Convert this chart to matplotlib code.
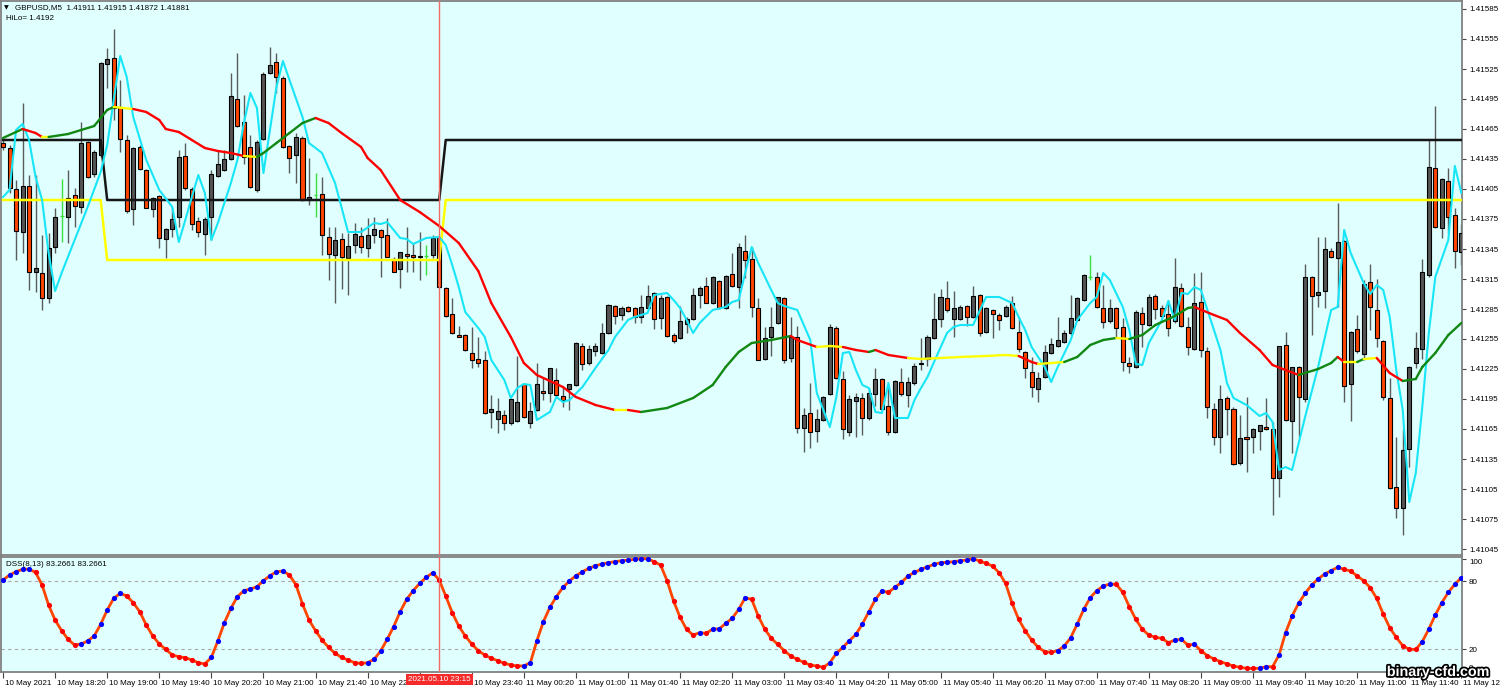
import numpy as np
import pandas as pd
import matplotlib
matplotlib.use('Agg')
import matplotlib.pyplot as plt
import matplotlib.patheffects as pe
from matplotlib.collections import LineCollection
from matplotlib import transforms

plt.rcParams['font.family'] = ['Liberation Sans', 'DejaVu Sans']
FS = 5.8

# GBPUSD M5 candles, 10 May 17:40 .. 11 May 12:20
opens = [
    1.41451, 1.41446, 1.41405, 1.41362, 1.41408, 1.41322, 1.41321, 1.41296, 1.41347, 1.41378,
    1.41377, 1.41399, 1.41387, 1.41452, 1.41420, 1.41439, 1.41530, 1.41536, 1.41487, 1.41454,
    1.41385, 1.41447, 1.41424, 1.41385, 1.41398, 1.41355, 1.41365, 1.41377, 1.41438, 1.41405,
    1.41373, 1.41360, 1.41377, 1.41418, 1.41424, 1.41435, 1.41495, 1.41472, 1.41447, 1.41404,
    1.41455, 1.41521, 1.41532, 1.41516, 1.41448, 1.41439, 1.41456, 1.41394, 1.41399, 1.41400,
    1.41357, 1.41339, 1.41355, 1.41336, 1.41349, 1.41358, 1.41346, 1.41359, 1.41364, 1.41359,
    1.41335, 1.41325, 1.41340, 1.41339, 1.41337, 1.41338, 1.41339, 1.41357, 1.41306, 1.41280,
    1.41259, 1.41259, 1.41241, 1.41235, 1.41234, 1.41182, 1.41175, 1.41179, 1.41171, 1.41173,
    1.41210, 1.41171, 1.41184, 1.41203, 1.41201, 1.41214, 1.41198, 1.41205, 1.41209, 1.41248,
    1.41231, 1.41243, 1.41241, 1.41261, 1.41288, 1.41279, 1.41287, 1.41286, 1.41277, 1.41286,
    1.41301, 1.41276, 1.41297, 1.41259, 1.41256, 1.41270, 1.41275, 1.41299, 1.41308, 1.41291,
    1.41313, 1.41286, 1.41320, 1.41307, 1.41343, 1.41335, 1.41286, 1.41235, 1.41257, 1.41271,
    1.41296, 1.41236, 1.41257, 1.41166, 1.41181, 1.41163, 1.41174, 1.41200, 1.41266, 1.41215,
    1.41162, 1.41193, 1.41196, 1.41176, 1.41200, 1.41215, 1.41188, 1.41162, 1.41212, 1.41199,
    1.41211, 1.41230, 1.41235, 1.41256, 1.41275, 1.41296, 1.41275, 1.41275, 1.41288, 1.41277,
    1.41299, 1.41262, 1.41284, 1.41279, 1.41278, 1.41291, 1.41262, 1.41242, 1.41222, 1.41205,
    1.41217, 1.41241, 1.41248, 1.41252, 1.41261, 1.41274, 1.41294, 1.41317, 1.41317, 1.41286,
    1.41273, 1.41286, 1.41267, 1.41231, 1.41227, 1.41281, 1.41269, 1.41298, 1.41286, 1.41280,
    1.41273, 1.41306, 1.41267, 1.41245, 1.41292, 1.41243, 1.41185, 1.41157, 1.41196, 1.41185,
    1.41131, 1.41157, 1.41157, 1.41163, 1.41167, 1.41165, 1.41116, 1.41249, 1.41173, 1.41227,
    1.41195, 1.41317, 1.41299, 1.41303, 1.41343, 1.41336, 1.41353, 1.41210, 1.41265, 1.41240,
    1.41312, 1.41284, 1.41253, 1.41196, 1.41107, 1.41086, 1.41145, 1.41231, 1.41245, 1.41319,
    1.41426, 1.41366, 1.41413, 1.41379, 1.41342,
]
highs = [
    1.41454, 1.41449, 1.41414, 1.41491, 1.41419, 1.41419, 1.41359, 1.41361, 1.41386, 1.41415,
    1.41424, 1.41406, 1.41472, 1.41453, 1.41444, 1.41532, 1.41546, 1.41565, 1.41514, 1.41459,
    1.41447, 1.41449, 1.41425, 1.41397, 1.41399, 1.41366, 1.41387, 1.41444, 1.41451, 1.41407,
    1.41377, 1.41377, 1.41424, 1.41444, 1.41444, 1.41521, 1.41541, 1.41499, 1.41459, 1.41454,
    1.41522, 1.41547, 1.41541, 1.41518, 1.41449, 1.41461, 1.41458, 1.41436, 1.41421, 1.41417,
    1.41367, 1.41367, 1.41361, 1.41361, 1.41371, 1.41367, 1.41376, 1.41377, 1.41365, 1.41376,
    1.41337, 1.41342, 1.41367, 1.41351, 1.41362, 1.41349, 1.41359, 1.41358, 1.41307, 1.41296,
    1.41268, 1.41260, 1.41267, 1.41257, 1.41243, 1.41199, 1.41196, 1.41184, 1.41196, 1.41238,
    1.41211, 1.41192, 1.41231, 1.41217, 1.41226, 1.41226, 1.41207, 1.41210, 1.41252, 1.41251,
    1.41249, 1.41251, 1.41271, 1.41290, 1.41289, 1.41288, 1.41288, 1.41287, 1.41299, 1.41309,
    1.41302, 1.41299, 1.41298, 1.41261, 1.41288, 1.41277, 1.41306, 1.41308, 1.41317, 1.41318,
    1.41314, 1.41319, 1.41341, 1.41351, 1.41359, 1.41347, 1.41296, 1.41267, 1.41287, 1.41297,
    1.41297, 1.41277, 1.41268, 1.41186, 1.41211, 1.41185, 1.41198, 1.41270, 1.41268, 1.41223,
    1.41199, 1.41201, 1.41201, 1.41206, 1.41226, 1.41216, 1.41210, 1.41214, 1.41226, 1.41217,
    1.41231, 1.41256, 1.41259, 1.41301, 1.41305, 1.41313, 1.41303, 1.41289, 1.41289, 1.41308,
    1.41300, 1.41287, 1.41285, 1.41281, 1.41289, 1.41298, 1.41277, 1.41243, 1.41237, 1.41222,
    1.41249, 1.41256, 1.41277, 1.41264, 1.41299, 1.41297, 1.41320, 1.41339, 1.41322, 1.41309,
    1.41295, 1.41287, 1.41276, 1.41237, 1.41284, 1.41287, 1.41300, 1.41300, 1.41289, 1.41294,
    1.41336, 1.41311, 1.41277, 1.41321, 1.41322, 1.41247, 1.41191, 1.41209, 1.41198, 1.41187,
    1.41179, 1.41197, 1.41166, 1.41169, 1.41196, 1.41172, 1.41248, 1.41262, 1.41227, 1.41228,
    1.41330, 1.41318, 1.41357, 1.41357, 1.41346, 1.41391, 1.41354, 1.41263, 1.41279, 1.41314,
    1.41330, 1.41315, 1.41254, 1.41216, 1.41157, 1.41165, 1.41228, 1.41262, 1.41335, 1.41454,
    1.41488, 1.41416, 1.41426, 1.41386, 1.41370,
]
lows = [
    1.41444, 1.41401, 1.41334, 1.41341, 1.41304, 1.41302, 1.41284, 1.41291, 1.41341, 1.41352,
    1.41351, 1.41367, 1.41381, 1.41416, 1.41417, 1.41437, 1.41506, 1.41474, 1.41442, 1.41381,
    1.41369, 1.41424, 1.41386, 1.41377, 1.41346, 1.41336, 1.41357, 1.41367, 1.41404, 1.41364,
    1.41357, 1.41339, 1.41354, 1.41417, 1.41423, 1.41434, 1.41467, 1.41430, 1.41406, 1.41402,
    1.41454, 1.41520, 1.41501, 1.41446, 1.41421, 1.41411, 1.41393, 1.41389, 1.41377, 1.41339,
    1.41314, 1.41291, 1.41305, 1.41299, 1.41341, 1.41341, 1.41337, 1.41351, 1.41317, 1.41337,
    1.41322, 1.41306, 1.41322, 1.41322, 1.41314, 1.41319, 1.41336, 1.41306, 1.41277, 1.41260,
    1.41257, 1.41243, 1.41226, 1.41227, 1.41180, 1.41166, 1.41161, 1.41164, 1.41169, 1.41172,
    1.41176, 1.41166, 1.41183, 1.41194, 1.41192, 1.41197, 1.41187, 1.41184, 1.41208, 1.41224,
    1.41229, 1.41238, 1.41240, 1.41260, 1.41270, 1.41274, 1.41282, 1.41271, 1.41271, 1.41286,
    1.41265, 1.41265, 1.41257, 1.41251, 1.41255, 1.41261, 1.41274, 1.41286, 1.41291, 1.41290,
    1.41285, 1.41285, 1.41307, 1.41286, 1.41316, 1.41277, 1.41234, 1.41234, 1.41238, 1.41270,
    1.41231, 1.41232, 1.41161, 1.41142, 1.41146, 1.41152, 1.41173, 1.41199, 1.41215, 1.41155,
    1.41158, 1.41157, 1.41159, 1.41174, 1.41188, 1.41184, 1.41159, 1.41161, 1.41198, 1.41187,
    1.41209, 1.41224, 1.41228, 1.41255, 1.41267, 1.41282, 1.41257, 1.41274, 1.41268, 1.41276,
    1.41258, 1.41261, 1.41256, 1.41264, 1.41277, 1.41265, 1.41242, 1.41216, 1.41197, 1.41192,
    1.41216, 1.41240, 1.41247, 1.41251, 1.41259, 1.41273, 1.41293, 1.41314, 1.41286, 1.41266,
    1.41271, 1.41256, 1.41223, 1.41221, 1.41226, 1.41247, 1.41268, 1.41275, 1.41277, 1.41258,
    1.41271, 1.41267, 1.41239, 1.41244, 1.41237, 1.41176, 1.41149, 1.41141, 1.41159, 1.41129,
    1.41129, 1.41122, 1.41141, 1.41144, 1.41164, 1.41079, 1.41097, 1.41173, 1.41141, 1.41157,
    1.41192, 1.41259, 1.41287, 1.41286, 1.41336, 1.41287, 1.41192, 1.41173, 1.41241, 1.41234,
    1.41264, 1.41247, 1.41194, 1.41105, 1.41076, 1.41059, 1.41127, 1.41226, 1.41235, 1.41317,
    1.41366, 1.41356, 1.41361, 1.41326, 1.41329,
]
closes = [
    1.41447, 1.41406, 1.41363, 1.41408, 1.41322, 1.41326, 1.41296, 1.41346, 1.41377, 1.41378,
    1.41396, 1.41388, 1.41451, 1.41417, 1.41442, 1.41531, 1.41535, 1.41486, 1.41455, 1.41383,
    1.41446, 1.41425, 1.41386, 1.41396, 1.41356, 1.41365, 1.41375, 1.41437, 1.41406, 1.41370,
    1.41362, 1.41375, 1.41420, 1.41430, 1.41435, 1.41498, 1.41468, 1.41437, 1.41407, 1.41452,
    1.41520, 1.41529, 1.41517, 1.41447, 1.41436, 1.41457, 1.41394, 1.41397, 1.41399, 1.41359,
    1.41340, 1.41354, 1.41337, 1.41348, 1.41360, 1.41347, 1.41359, 1.41365, 1.41357, 1.41337,
    1.41322, 1.41342, 1.41338, 1.41337, 1.41338, 1.41338, 1.41356, 1.41307, 1.41278, 1.41261,
    1.41257, 1.41244, 1.41234, 1.41231, 1.41181, 1.41185, 1.41183, 1.41171, 1.41195, 1.41192,
    1.41177, 1.41183, 1.41210, 1.41201, 1.41226, 1.41199, 1.41194, 1.41210, 1.41251, 1.41230,
    1.41245, 1.41248, 1.41261, 1.41289, 1.41278, 1.41286, 1.41283, 1.41277, 1.41287, 1.41298,
    1.41275, 1.41296, 1.41258, 1.41253, 1.41273, 1.41275, 1.41299, 1.41306, 1.41291, 1.41317,
    1.41286, 1.41318, 1.41308, 1.41347, 1.41334, 1.41287, 1.41234, 1.41256, 1.41267, 1.41297,
    1.41234, 1.41257, 1.41166, 1.41179, 1.41162, 1.41175, 1.41197, 1.41267, 1.41216, 1.41165,
    1.41195, 1.41197, 1.41176, 1.41201, 1.41215, 1.41185, 1.41162, 1.41213, 1.41200, 1.41212,
    1.41228, 1.41231, 1.41257, 1.41275, 1.41297, 1.41284, 1.41286, 1.41287, 1.41277, 1.41298,
    1.41261, 1.41286, 1.41280, 1.41274, 1.41287, 1.41266, 1.41245, 1.41226, 1.41207, 1.41216,
    1.41242, 1.41250, 1.41254, 1.41261, 1.41276, 1.41296, 1.41319, 1.41317, 1.41287, 1.41272,
    1.41286, 1.41266, 1.41232, 1.41228, 1.41282, 1.41270, 1.41297, 1.41285, 1.41278, 1.41266,
    1.41307, 1.41268, 1.41247, 1.41291, 1.41244, 1.41187, 1.41157, 1.41195, 1.41185, 1.41130,
    1.41156, 1.41155, 1.41165, 1.41169, 1.41165, 1.41116, 1.41248, 1.41174, 1.41227, 1.41197,
    1.41317, 1.41298, 1.41302, 1.41345, 1.41337, 1.41352, 1.41208, 1.41262, 1.41243, 1.41310,
    1.41287, 1.41256, 1.41197, 1.41106, 1.41086, 1.41144, 1.41227, 1.41246, 1.41322, 1.41427,
    1.41367, 1.41415, 1.41377, 1.41343, 1.41361,
]

# HiLo channel (upper / lower), one value per bar
hilo_upper = [1.41454] * 16 + [1.41394] * 52 + [1.41454] * 157
hilo_lower = [1.41394] * 16 + [1.41334] * 52 + [1.41394] * 157

# fast MA (cyan), read at its vertices
fast_idx = [0, 1, 2, 3, 4, 5, 6, 7, 8, 9,
            11, 13, 15, 16, 17, 18, 19, 20, 22, 24,
            26, 27, 28, 29, 30, 31, 32, 33, 35, 36,
            37, 38, 39, 40, 41, 42, 43, 44, 46, 47,
            49, 51, 53, 55, 57, 58, 59, 61, 62, 63,
            65, 67, 68, 69, 70, 71, 73, 74, 75, 77,
            78, 79, 80, 81, 82, 84, 85, 86, 87, 89,
            91, 93, 94, 96, 97, 99, 100, 102, 103, 104,
            105, 106, 107, 109, 111, 112, 113, 114, 115, 116,
            118, 119, 120, 122, 124, 125, 127, 128, 129, 130,
            131, 132, 133, 134, 135, 136, 137, 139, 140, 141,
            142, 143, 145, 146, 147, 149, 151, 153, 155, 156,
            157, 158, 160, 161, 162, 164, 165, 167, 168, 169,
            170, 172, 173, 174, 175, 176, 178, 179, 180, 181,
            182, 183, 184, 185, 187, 188, 189, 191, 193, 194,
            195, 196, 197, 198, 200, 202, 204, 205, 206, 207,
            209, 210, 211, 212, 213, 214, 215, 216, 217, 218,
            219, 220, 222, 223, 224]
fast_ma = [1.41397, 1.41404, 1.41464, 1.41470, 1.41454, 1.41417, 1.41394, 1.41341, 1.41303, 1.41321,
           1.41354, 1.41387, 1.41422, 1.41449, 1.41494, 1.41538, 1.41517, 1.41477, 1.41434, 1.41404,
           1.41387, 1.41352, 1.41374, 1.41397, 1.41419, 1.41401, 1.41354, 1.41371, 1.41411, 1.41434,
           1.41471, 1.41501, 1.41486, 1.41421, 1.41464, 1.41507, 1.41533, 1.41514, 1.41477, 1.41451,
           1.41441, 1.41411, 1.41362, 1.41362, 1.41371, 1.41370, 1.41372, 1.41356, 1.41355, 1.41350,
           1.41356, 1.41357, 1.41349, 1.41329, 1.41307, 1.41282, 1.41266, 1.41257, 1.41234, 1.41214,
           1.41196, 1.41206, 1.41210, 1.41209, 1.41174, 1.41182, 1.41197, 1.41192, 1.41194, 1.41207,
           1.41226, 1.41244, 1.41257, 1.41274, 1.41277, 1.41281, 1.41299, 1.41301, 1.41294, 1.41286,
           1.41274, 1.41261, 1.41271, 1.41284, 1.41287, 1.41292, 1.41294, 1.41321, 1.41347, 1.41331,
           1.41304, 1.41291, 1.41288, 1.41284, 1.41254, 1.41201, 1.41167, 1.41197, 1.41241, 1.41242,
           1.41224, 1.41209, 1.41206, 1.41182, 1.41181, 1.41211, 1.41176, 1.41176, 1.41194, 1.41206,
           1.41217, 1.41232, 1.41261, 1.41267, 1.41269, 1.41269, 1.41297, 1.41297, 1.41291, 1.41277,
           1.41264, 1.41247, 1.41227, 1.41212, 1.41227, 1.41254, 1.41274, 1.41291, 1.41297, 1.41321,
           1.41314, 1.41287, 1.41264, 1.41230, 1.41229, 1.41251, 1.41274, 1.41293, 1.41274, 1.41301,
           1.41300, 1.41307, 1.41304, 1.41284, 1.41244, 1.41211, 1.41196, 1.41189, 1.41178, 1.41181,
           1.41172, 1.41124, 1.41127, 1.41124, 1.41177, 1.41227, 1.41284, 1.41287, 1.41364, 1.41341,
           1.41311, 1.41300, 1.41309, 1.41304, 1.41277, 1.41224, 1.41184, 1.41092, 1.41121, 1.41187,
           1.41261, 1.41317, 1.41354, 1.41428, 1.41401]

# slow MA (colour follows slope), read at its vertices
slow_idx = [0, 2, 3, 5, 6, 7, 10, 12, 14, 15,
            16, 17, 20, 22, 24, 25, 27, 29, 31, 33,
            35, 37, 39, 40, 42, 44, 46, 48, 50, 52,
            55, 56, 58, 61, 64, 67, 70, 73, 75, 78,
            80, 82, 86, 88, 91, 94, 96, 98, 102, 106,
            109, 111, 113, 115, 118, 121, 122, 125, 127, 129,
            131, 133, 134, 136, 139, 141, 144, 147, 151, 154,
            156, 158, 159, 161, 163, 165, 167, 169, 171, 173,
            175, 177, 180, 182, 183, 186, 188, 190, 193, 195,
            197, 199, 202, 204, 205, 206, 208, 209, 211, 213,
            215, 217, 218, 220, 222, 224]
slow_ma = [1.41456, 1.41462, 1.41465, 1.41461, 1.41457, 1.41457, 1.41460, 1.41464, 1.41468, 1.41476,
           1.41484, 1.41487, 1.41485, 1.41482, 1.41474, 1.41465, 1.41462, 1.41454, 1.41446, 1.41443,
           1.41441, 1.41438, 1.41437, 1.41441, 1.41451, 1.41461, 1.41471, 1.41476, 1.41471, 1.41461,
           1.41447, 1.41436, 1.41424, 1.41394, 1.41382, 1.41368, 1.41351, 1.41323, 1.41291, 1.41257,
           1.41231, 1.41219, 1.41207, 1.41197, 1.41189, 1.41184, 1.41184, 1.41182, 1.41186, 1.41196,
           1.41209, 1.41227, 1.41242, 1.41251, 1.41254, 1.41258, 1.41254, 1.41247, 1.41248, 1.41247,
           1.41244, 1.41242, 1.41244, 1.41239, 1.41236, 1.41235, 1.41236, 1.41237, 1.41238, 1.41239,
           1.41238, 1.41232, 1.41230, 1.41231, 1.41232, 1.41237, 1.41249, 1.41254, 1.41256, 1.41255,
           1.41259, 1.41269, 1.41278, 1.41286, 1.41287, 1.41279, 1.41274, 1.41261, 1.41244, 1.41229,
           1.41224, 1.41219, 1.41225, 1.41231, 1.41237, 1.41232, 1.41232, 1.41235, 1.41236, 1.41221,
           1.41213, 1.41215, 1.41227, 1.41241, 1.41259, 1.41271]

# DSS(8,13) oscillator, one value per bar
dss = [81.2, 85.6, 88.5, 90.6, 90.8, 87.9, 76.8, 59.1, 45.9, 36.5,
       28.8, 23.8, 24.7, 27.4, 31.8, 42.1, 54.7, 65.0, 69.4, 67.1,
       61.2, 53.2, 41.5, 31.8, 24.7, 20.0, 15.0, 13.5, 12.6, 10.6,
       8.2, 7.1, 12.9, 27.4, 43.5, 56.2, 66.5, 71.8, 73.2, 75.3,
       80.6, 85.0, 88.5, 89.1, 85.6, 76.8, 60.0, 45.9, 36.5, 28.2,
       21.8, 16.5, 12.9, 10.6, 8.2, 7.6, 8.2, 11.2, 18.5, 28.8,
       40.0, 53.2, 64.1, 71.8, 78.2, 83.5, 87.6, 81.2, 67.1, 52.4,
       40.6, 31.8, 24.7, 18.8, 15.0, 12.1, 10.0, 7.6, 6.2, 5.3,
       5.4, 8.2, 27.6, 44.4, 57.1, 66.5, 74.7, 80.3, 85.0, 88.5,
       91.5, 93.8, 95.3, 96.5, 97.4, 98.2, 98.8, 99.4, 99.9, 100.0,
       97.4, 94.4, 80.6, 62.6, 48.2, 37.6, 32.6, 34.7, 34.1, 37.9,
       38.0, 42.9, 47.4, 55.3, 65.6, 64.1, 49.4, 37.9, 29.7, 24.4,
       18.8, 14.1, 11.2, 8.5, 6.2, 5.3, 4.1, 8.2, 16.5, 21.8,
       27.6, 33.2, 42.4, 53.2, 64.1, 71.5, 70.3, 74.7, 79.1, 84.7,
       87.9, 90.6, 92.9, 95.0, 96.5, 96.8, 97.4, 98.2, 98.8, 100.0,
       97.9, 95.9, 93.5, 87.6, 78.2, 60.6, 46.5, 36.5, 28.2, 21.8,
       17.9, 17.4, 18.8, 22.9, 30.3, 42.4, 55.3, 65.6, 71.8, 75.9,
       77.6, 77.4, 70.3, 57.6, 46.5, 37.6, 32.6, 30.6, 29.7, 25.9,
       28.2, 28.8, 23.8, 24.4, 18.8, 14.4, 11.5, 9.1, 7.1, 5.3,
       4.1, 3.3, 3.1, 3.3, 4.7, 4.6, 15.0, 34.7, 49.4, 60.6,
       69.4, 76.8, 82.1, 86.5, 89.4, 92.4, 90.6, 89.1, 84.7, 80.6,
       74.4, 65.0, 51.2, 39.1, 30.6, 23.2, 20.0, 19.9, 26.8, 37.9,
       50.3, 61.2, 70.3, 77.4, 83.3]

price_ticks = [1.41045 + 0.0003 * k for k in range(19)]
dss_ticks = [0, 20, 80, 100]
marker_bar = 67  # 2021.05.10 23:15

n = len(closes)
assert len(opens) == len(highs) == len(lows) == n == len(dss) == len(hilo_upper)
times = pd.date_range('2021-05-10 17:40', periods=n, freq='5min')

bg = '#E0FFFF'
fig = plt.figure(figsize=(15, 6.9), dpi=100)
ax = fig.add_axes([1 / 1500, 135 / 690, 1461 / 1500, 554 / 690], facecolor=bg)
ax2 = fig.add_axes([1 / 1500, 18 / 690, 1461 / 1500, 115 / 690], facecolor=bg)

x = np.arange(n)
o, h, l, c = map(np.array, (opens, highs, lows, closes))
up = c > o
dn = c < o
dj = c == o

# candles
ax.vlines(x[~dj], l[~dj], h[~dj], color='#5a5a5a', lw=1, zorder=2)
ax.bar(x[up], (c - o)[up], bottom=o[up], width=0.62, color='#545454',
       edgecolor='black', lw=0.8, zorder=3)
ax.bar(x[dn], (o - c)[dn], bottom=c[dn], width=0.62, color='#FF4500',
       edgecolor='black', lw=0.8, zorder=3)
ax.vlines(x[dj], l[dj], h[dj], color='#3CE03C', lw=1, zorder=3)
ax.hlines(o[dj], x[dj] - 0.3, x[dj] + 0.3, color='#3CE03C', lw=1, zorder=3)

# indicators
ax.plot(x, hilo_upper, color='#161616', lw=1.8, zorder=4)
ax.plot(x, hilo_lower, color='#FFFF00', lw=1.8, zorder=4)
ax.plot(fast_idx, fast_ma, color='#18E6F6', lw=1.5, zorder=5)

sx = np.array(slow_idx, dtype=float)
sy = np.array(slow_ma)
slope = np.diff(sy) / np.diff(sx) * 1e5
seg_cols = np.where(slope > 0.8, '#118811', np.where(slope < -0.8, '#FF0000', '#FFFF00'))
segs = np.stack([np.column_stack([sx[:-1], sy[:-1]]), np.column_stack([sx[1:], sy[1:]])], axis=1)
ax.add_collection(LineCollection(segs, colors=seg_cols, lw=1.7, zorder=5, capstyle='round'))

ax.set_xlim(-0.31, n - 0.9)
ax.set_ylim(1.41039, 1.41593)
ax.set_xticks([])
ax.yaxis.tick_right()
ax.set_yticks(price_ticks)
ax.set_yticklabels([f'{p:.5f}' for p in price_ticks])
ax.tick_params(axis='y', length=3, width=0.8, pad=2, labelsize=FS, color='#444444')

# DSS panel
d = np.array(dss)
rising = np.r_[True, np.diff(d) >= 0]
ax2.plot(x, d, color='#FF4500', lw=2, zorder=3)
ax2.scatter(x[rising], d[rising], s=14, color='#0000FF', zorder=4, linewidths=0)
ax2.scatter(x[~rising], d[~rising], s=14, color='#FF0000', zorder=4, linewidths=0)
for lev in (20, 80):
    ax2.axhline(lev, color='#A8A8A8', lw=0.8, ls=(0, (3, 3)), zorder=1)
ax2.set_xlim(ax.get_xlim())
ax2.set_ylim(0, 101.5)
ax2.yaxis.tick_right()
ax2.set_yticks(dss_ticks)
ax2.set_yticklabels([str(t) for t in dss_ticks])
ax2.tick_params(axis='y', length=3, width=0.8, pad=2, labelsize=FS, color='#444444')
ylbls = ax2.get_yticklabels()
ylbls[0].set_va('bottom')
ylbls[-1].set_va('top')

tick_pos = list(range(0, n, 8))
tick_lbl = ['10 May 2021'] + [times[i].strftime('%d %b %H:%M') for i in tick_pos[1:]]
# the label under the time marker is not shown
tick_lbl[tick_pos.index(64)] = ''
ax2.set_xticks(tick_pos)
ax2.set_xticklabels(tick_lbl)
ax2.tick_params(axis='x', length=4, width=0.8, pad=2, labelsize=FS, color='#444444')
shift = transforms.ScaledTranslation(2 / 100, 0, fig.dpi_scale_trans)
for t in ax2.get_xticklabels():
    t.set_ha('left')
    t.set_transform(t.get_transform() + shift)

for a in (ax, ax2):
    a.axvline(marker_bar, color='#F06A6A', lw=1, zorder=6)
    for s in a.spines.values():
        s.set_color('#808080')
        s.set_linewidth(1.3)

ax2.text(marker_bar, -0.035, '2021.05.10 23:15', transform=ax2.get_xaxis_transform(),
         ha='center', va='top', fontsize=FS, color='white', clip_on=False, zorder=10,
         bbox=dict(boxstyle='square,pad=0.25', fc='#F52A2A', ec='none'))

fig.text(4 / 1500, 1 - 8 / 690, '\u25bc', fontsize=4.5, va='center', family='DejaVu Sans')
fig.text(15 / 1500, 1 - 8 / 690, 'GBPUSD,M5  1.41911 1.41915 1.41872 1.41881',
         fontsize=FS, va='center')
fig.text(6 / 1500, 1 - 19 / 690, 'HiLo= 1.4192', fontsize=FS, va='center')
fig.text(6 / 1500, 1 - 564 / 690, 'DSS(8,13) 83.2661 83.2661', fontsize=FS, va='center')
fig.text(1438 / 1500, 1 - 672 / 690, 'binary-cfd.com', fontsize=10.3, fontweight='bold',
         color='white', ha='center', va='center',
         path_effects=[pe.withStroke(linewidth=2.5, foreground='black')])

fig.savefig('out.png', dpi=100, facecolor='white')
